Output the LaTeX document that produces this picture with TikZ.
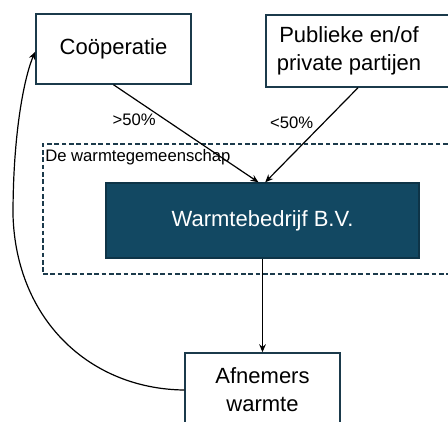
\documentclass[tikz,border=0pt]{standalone}
\usepackage{fontspec}
\setmainfont{Liberation Sans}
\usetikzlibrary{arrows.meta,positioning}
\definecolor{boxline}{HTML}{1B3A4B}
\definecolor{bvfill}{HTML}{124862}
\definecolor{bvline}{HTML}{0E3447}

\begin{document}
\begin{tikzpicture}[x=0.75pt,y=-0.75pt,
  box/.style={draw=boxline,line width=1.1pt,inner sep=0pt,align=center,font=\fontsize{16.5}{21}\selectfont},
  pct/.style={inner sep=0pt,font=\fontsize{12.5}{15}\selectfont},
  link/.style={line width=0.9pt,-{Stealth[length=6pt,width=5pt]}}]
\useasboundingbox (0,0) rectangle (448,421);
\clip (0,0) rectangle (448,421);
% bovenste rij
\node(coop) [box,minimum width=116.25pt,minimum height=52.5pt] at (113.5,49) {Coöperatie};
\node(pub) [box,minimum width=153pt,minimum height=54pt] at (368,51) {};
\node(publab) [align=center,font=\fontsize{16.5}{21}\selectfont] at (349,51) {Publieke en/of\\private partijen};
% de warmtegemeenschap
\node(gem) [draw=boxline,line width=1pt,dash pattern=on 3.5pt off 2pt,minimum width=320.25pt,minimum height=97.5pt] at (256.5,209) {};
\node(gemlab) [anchor=north west,inner xsep=2pt,inner ysep=4pt,font=\fontsize{12.5}{15}\selectfont] at (gem.north west) {De warmtegemeenschap};
\node(wb) [fill=bvfill,draw=bvline,line width=1pt,text=white,minimum width=234.75pt,minimum height=56.25pt,font=\fontsize{16.5}{21}\selectfont] at (262.5,220.5) {Warmtebedrijf B.V.};
% afnemers
\node(af) [box,minimum width=116.25pt,minimum height=55.5pt] at (262.5,390) {Afnemers\\warmte};
\coordinate(bend) at (13,215);
\draw[link] (coop.south) -- ([xshift=-3pt]wb.north) node [pct,pos=0.36,left=7pt] {>50\%};
\draw[link] ([xshift=-7.5pt]pub.south) -- ([xshift=2pt]wb.north) node [pct,pos=0.375,left=7pt] {<50\%};
\draw[link] (wb.south) -- (af.north);
\draw[link] (af.west) .. controls (90,389) and (16,320) .. (bend) .. controls (13,130) and (25,75) .. ([yshift=-2pt]coop.west);
\end{tikzpicture}
\end{document}
